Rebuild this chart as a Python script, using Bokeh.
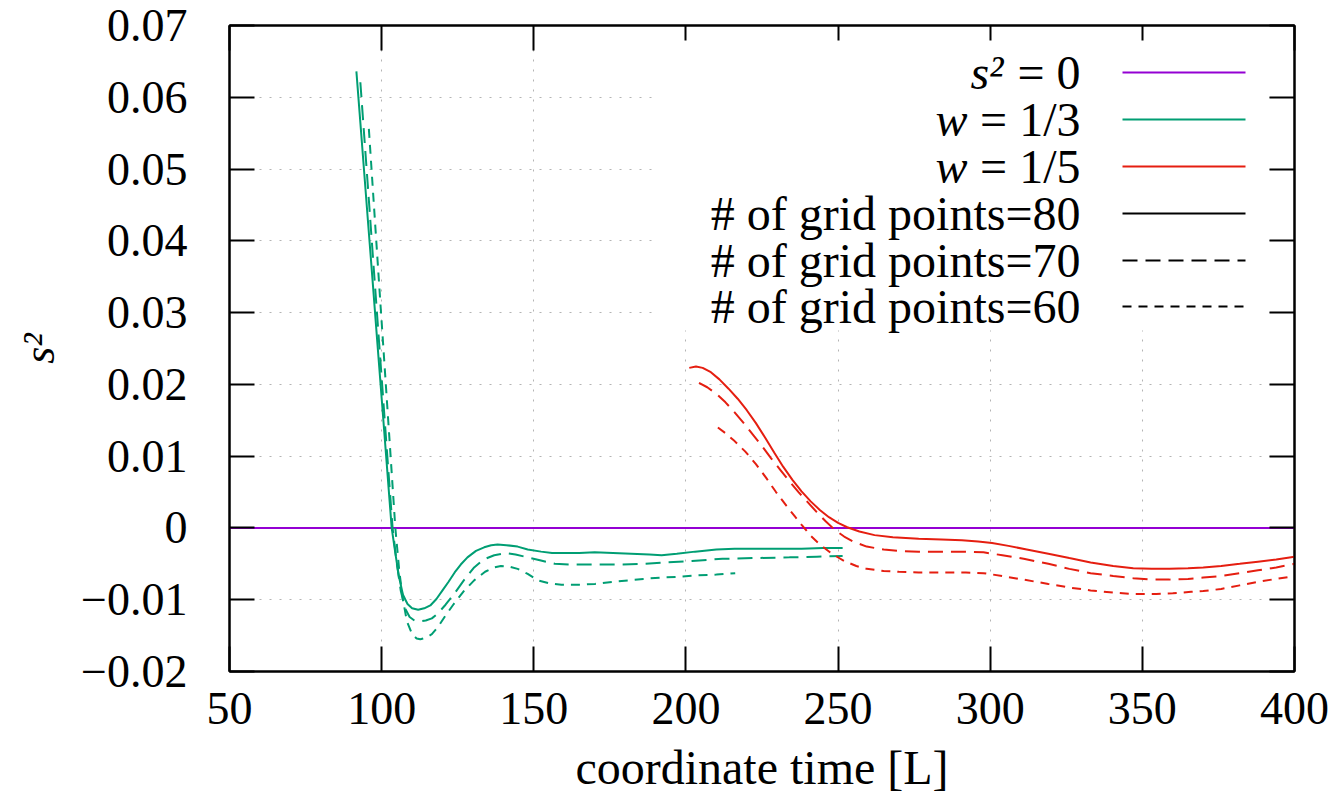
from bokeh.plotting import figure
from bokeh.models import (Range1d, FixedTicker, LinearAxis, CustomJSTickFormatter,
                          Label, Arrow, BoxAnnotation)
from bokeh.embed import file_html
from bokeh.resources import INLINE

# ---------------- data ----------------
x_ticks = [50, 100, 150, 200, 250, 300, 350, 400]
y_ticks = [-0.02, -0.01, 0.0, 0.01, 0.02, 0.03, 0.04, 0.05, 0.06, 0.07]

zero_x = [50, 400]
zero_y = [0.0, 0.0]

# w = 1/3, grid points = 80
g80_x = [91.7, 93.0, 94.2, 95.6, 97.0, 98.5, 100.0, 101.5, 103.3, 104.5, 105.7, 107.0,
         108.5, 110.0, 112.0, 114.0, 116.0, 118.0, 120.0, 122.0, 124.0, 126.0, 128.2,
         131.0, 133.7, 136.0, 138.1, 141.0, 144.7, 148.0, 152.4, 156.0, 160.0, 165.0,
         170.0, 176.0, 182.0, 188.0, 192.0, 197.0, 203.0, 210.0, 216.0, 222.0, 230.0,
         238.0, 245.0, 251.5]
g80_y = [0.0636, 0.0565, 0.0499, 0.0422, 0.0346, 0.0263, 0.0181, 0.0099, 0.0, -0.0035,
         -0.0068, -0.0093, -0.0106, -0.0112, -0.0114, -0.0112, -0.0108, -0.0099, -0.0087,
         -0.0075, -0.0062, -0.0051, -0.0041, -0.0032, -0.0027, -0.0024, -0.0023, -0.0024,
         -0.0026, -0.0030, -0.0033, -0.0035, -0.0035, -0.0035, -0.0034, -0.0035, -0.0036,
         -0.0037, -0.0038, -0.0036, -0.0033, -0.0030, -0.0029, -0.0029, -0.0029, -0.0029,
         -0.0028, -0.0028]

# w = 1/3, grid points = 70
g70_x = [93.0, 94.5, 96.0, 97.5, 99.0, 100.5, 102.0, 103.6, 105.0, 106.3, 107.7, 109.2,
         110.8, 112.7, 114.5, 116.5, 118.5, 121.0, 124.0, 127.0, 130.4, 133.5, 137.0,
         140.8, 144.0, 148.0, 152.0, 156.9, 162.0, 170.0, 178.0, 186.0, 194.0, 202.0,
         212.0, 222.0, 234.0, 243.0, 251.5]
g70_y = [0.0621, 0.0533, 0.0445, 0.0356, 0.0268, 0.0180, 0.0092, 0.0, -0.0050, -0.0088,
         -0.0112, -0.0124, -0.0129, -0.0130, -0.0129, -0.0126, -0.0119, -0.0107, -0.0091,
         -0.0073, -0.0055, -0.0044, -0.0038, -0.0035, -0.0037, -0.0041, -0.0045, -0.0050,
         -0.0051, -0.0051, -0.0051, -0.0050, -0.0048, -0.0046, -0.0043, -0.0042, -0.0041,
         -0.0040, -0.0039]

# w = 1/3, grid points = 60
g60_x = [95.8, 97.5, 99.2, 100.9, 102.6, 104.5, 105.8, 107.0, 108.3, 110.0, 111.5, 112.7,
         114.5, 116.5, 118.5, 121.0, 123.7, 127.0, 130.4, 134.0, 137.0, 139.2, 142.0,
         144.7, 148.0, 151.3, 155.0, 159.1, 165.0, 170.1, 176.0, 181.1, 186.0, 192.2,
         198.0, 204.0, 210.0, 216.2]
g60_y = [0.0556, 0.0447, 0.0338, 0.0230, 0.0122, 0.0, -0.0060, -0.0100, -0.0130, -0.0148,
         -0.0154, -0.0155, -0.0153, -0.0148, -0.0138, -0.0122, -0.0106, -0.0088, -0.0073,
         -0.0061, -0.0055, -0.0053, -0.0054, -0.0057, -0.0064, -0.0073, -0.0077, -0.0079,
         -0.0079, -0.0078, -0.0075, -0.0073, -0.0071, -0.0069, -0.0068, -0.0066, -0.0065,
         -0.0063]

# w = 1/5, grid points = 80
r80_x = [201.1, 203.3, 205.5, 208.2, 211.0, 214.0, 217.0, 220.0, 223.0, 226.0, 229.0,
         232.0, 235.0, 238.0, 241.0, 244.0, 247.0, 250.0, 253.0, 257.0, 262.0, 268.0,
         276.5, 284.0, 290.7, 296.0, 300.6, 306.0, 312.0, 319.1, 326.0, 333.0, 340.4,
         347.0, 353.0, 358.9, 365.0, 370.0, 375.9, 382.0, 388.0, 394.0, 400.0]
r80_y = [0.0223, 0.0225, 0.0223, 0.0217, 0.0207, 0.0194, 0.0180, 0.0164, 0.0146, 0.0126,
         0.0105, 0.0085, 0.0067, 0.0051, 0.0037, 0.0025, 0.0015, 0.0007, 0.0001, -0.0005,
         -0.0010, -0.0013, -0.0015, -0.0016, -0.0017, -0.0019, -0.0021, -0.0025, -0.0030,
         -0.0036, -0.0042, -0.0048, -0.0053, -0.0056, -0.0057, -0.0057, -0.0056, -0.0055,
         -0.0053, -0.0050, -0.0047, -0.0044, -0.0040]

# w = 1/5, grid points = 70
r70_x = [204.3, 207.0, 210.0, 213.0, 216.0, 219.0, 222.0, 225.0, 228.0, 231.0, 234.0,
         237.0, 240.0, 243.0, 246.0, 249.0, 252.0, 255.0, 259.4, 265.0, 270.0, 276.5,
         285.0, 292.0, 297.8, 304.0, 311.0, 319.1, 326.0, 333.0, 340.4, 347.0, 353.0,
         358.9, 365.0, 370.0, 375.9, 382.0, 388.0, 394.0, 400.0]
r70_y = [0.0202, 0.0196, 0.0187, 0.0175, 0.0161, 0.0146, 0.0130, 0.0114, 0.0097, 0.0081,
         0.0065, 0.0050, 0.0036, 0.0022, 0.0009, -0.0003, -0.0012, -0.0019, -0.0026,
         -0.0030, -0.0032, -0.0033, -0.0033, -0.0033, -0.0034, -0.0038, -0.0043, -0.0050,
         -0.0057, -0.0063, -0.0067, -0.0070, -0.0072, -0.0072, -0.0071, -0.0069, -0.0067,
         -0.0063, -0.0059, -0.0055, -0.0050]

# w = 1/5, grid points = 60
r60_x = [210.5, 213.0, 216.0, 219.6, 223.0, 226.5, 229.6, 233.0, 236.0, 238.1, 241.0,
         244.0, 248.0, 252.0, 256.0, 259.4, 265.0, 270.0, 276.5, 285.0, 292.0, 297.8,
         304.0, 311.0, 319.1, 326.0, 333.0, 340.4, 347.0, 354.6, 360.0, 366.0, 370.0,
         375.9, 382.0, 388.0, 394.0, 400.0]
r60_y = [0.0140, 0.0132, 0.0121, 0.0106, 0.0089, 0.0069, 0.0050, 0.0031, 0.0015, 0.0004,
         -0.0011, -0.0023, -0.0036, -0.0046, -0.0053, -0.0057, -0.0060, -0.0061, -0.0062,
         -0.0062, -0.0062, -0.0063, -0.0067, -0.0072, -0.0078, -0.0083, -0.0087, -0.0090,
         -0.0092, -0.0092, -0.0091, -0.0089, -0.0088, -0.0085, -0.0080, -0.0075, -0.0071,
         -0.0067]

legend_labels = ["s\u00b2 = 0", "w = 1/3", "w = 1/5",
                 "# of grid points=80", "# of grid points=70", "# of grid points=60"]
x_label = "coordinate time [L]"
y_label = "s\u00b2"

# ---------------- style ----------------
FONT = "Liberation Serif"
PURPLE = "#9400d3"
GREEN = "#009e73"
RED = "#e51e10"
DASH70 = "15 8"
DASH60 = "9 7"
LW = 2

W, H = 1334, 799
p = figure(width=W, height=H, output_backend="svg", toolbar_location=None,
           x_range=Range1d(50, 400), y_range=Range1d(-0.02, 0.07),
           min_border_left=229, min_border_right=40, min_border_top=25,
           min_border_bottom=128)
p.background_fill_color = "white"
p.border_fill_color = "white"
p.outline_line_color = "black"
p.outline_line_width = 2

xt = FixedTicker(ticks=x_ticks)
yt = FixedTicker(ticks=y_ticks)
yfmt = CustomJSTickFormatter(code="""
if (Math.abs(tick) < 1e-12) { return "0"; }
const s = Math.abs(tick).toFixed(2);
return tick < 0 ? "\\u2212" + s : s;
""")
empty_fmt = CustomJSTickFormatter(code="return '';")

def style_axis(ax, labels=True):
    ax.axis_line_color = "black"
    ax.axis_line_width = 2
    ax.major_tick_line_color = "black"
    ax.major_tick_line_width = 2
    ax.major_tick_in = 25
    ax.major_tick_out = 0
    ax.minor_tick_line_color = None
    if labels:
        ax.major_label_text_font = FONT
        ax.major_label_text_font_size = "46px"
        ax.major_label_text_color = "black"
    else:
        ax.formatter = empty_fmt
        ax.major_label_standoff = 0

xa = p.xaxis[0]
ya = p.yaxis[0]
xa.ticker = xt
ya.ticker = yt
ya.formatter = yfmt
style_axis(xa)
style_axis(ya)
xa.major_label_standoff = 21
ya.major_label_standoff = 42

xa.axis_label = x_label
xa.axis_label_text_font = FONT
xa.axis_label_text_font_size = "48px"
xa.axis_label_text_font_style = "normal"
xa.axis_label_text_color = "black"
xa.axis_label_standoff = 14

ya.axis_label = y_label
ya.axis_label_text_font = FONT
ya.axis_label_text_font_size = "44px"
ya.axis_label_text_font_style = "italic"
ya.axis_label_text_color = "black"
ya.axis_label_standoff = 14

ax_top = LinearAxis(ticker=xt)
style_axis(ax_top, labels=False)
p.add_layout(ax_top, "above")
ax_right = LinearAxis(ticker=yt)
style_axis(ax_right, labels=False)
p.add_layout(ax_right, "right")

for g in (p.xgrid[0], p.ygrid[0]):
    g.grid_line_color = "#b4b4b4"
    g.grid_line_width = 1
    g.grid_line_dash = "2 8"

# ---------------- curves ----------------
p.line(zero_x, zero_y, line_color=PURPLE, line_width=LW)
p.line(g80_x, g80_y, line_color=GREEN, line_width=LW)
p.line(g70_x, g70_y, line_color=GREEN, line_width=LW, line_dash=DASH70)
p.line(g60_x, g60_y, line_color=GREEN, line_width=LW, line_dash=DASH60)
p.line(r80_x, r80_y, line_color=RED, line_width=LW)
p.line(r70_x, r70_y, line_color=RED, line_width=LW, line_dash=DASH70)
p.line(r60_x, r60_y, line_color=RED, line_width=LW, line_dash=DASH60)

# ---------------- legend (text left, sample right, like gnuplot) ----------------
# screen units are relative to the plot frame, y measured from the bottom
p.add_layout(BoxAnnotation(left=426, right=1036, bottom=341, top=631,
                           left_units="screen", right_units="screen",
                           bottom_units="screen", top_units="screen",
                           fill_color="white", fill_alpha=1.0, line_color=None))

row_y = [599, 552, 505, 458, 411, 365]
styles = [(PURPLE, None), (GREEN, None), (RED, None),
          ("black", None), ("black", DASH70), ("black", DASH60)]
TEXT_RIGHT = 851
LINE_X0, LINE_X1 = 893, 1016
LEG_SIZE = "48px"

def add_text(x, y, txt, italic=False):
    p.add_layout(Label(x=x, y=y, x_units="screen", y_units="screen", text=txt,
                       text_align="right", text_baseline="middle",
                       text_font=FONT, text_font_size=LEG_SIZE,
                       text_font_style="italic" if italic else "normal",
                       text_color="black"))

for i, (lab, (col, dash)) in enumerate(zip(legend_labels, styles)):
    y = row_y[i]
    if i == 0:
        head, rest = lab.split(" ", 1)
        add_text(TEXT_RIGHT, y, rest)
        add_text(TEXT_RIGHT - 77, y, head, italic=True)
    elif i in (1, 2):
        head, rest = lab.split(" ", 1)
        add_text(TEXT_RIGHT, y, rest)
        add_text(TEXT_RIGHT - 113, y, head, italic=True)
    else:
        add_text(TEXT_RIGHT, y, lab)
    kw = dict(line_color=col, line_width=LW)
    if dash:
        kw["line_dash"] = dash
    p.add_layout(Arrow(x_start=LINE_X0, y_start=y, x_end=LINE_X1, y_end=y,
                       start_units="screen", end_units="screen",
                       start=None, end=None, **kw))

open("out.html", "w").write(file_html(p, INLINE))
